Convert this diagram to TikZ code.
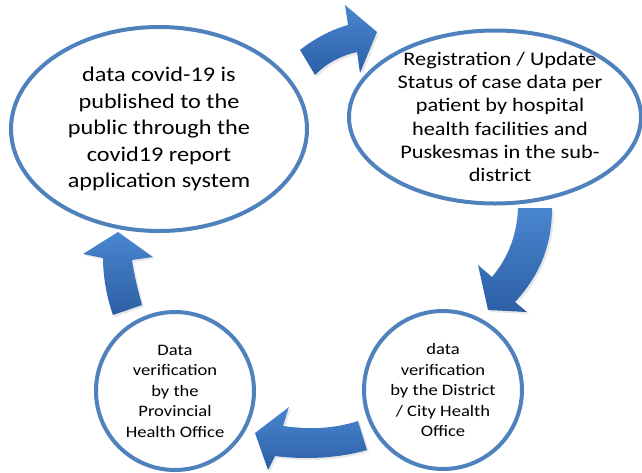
\documentclass[tikz,border=0pt]{standalone}
\usepackage{fontspec}
\setmainfont{Carlito}[FakeStretch=1.16]
\usetikzlibrary{shapes.geometric,shadows}
\definecolor{ringblue}{HTML}{4F81BD}
\definecolor{arrowtop}{HTML}{4A86D0}
\definecolor{arrowbot}{HTML}{2C5FA5}
\tikzset{
  ring/.style={draw=ringblue, line width=4pt, fill=white, ellipse, inner sep=0pt},
  ringtext/.style={align=center, text=black, inner sep=0pt},
  blockarrow/.style={top color=arrowtop, bottom color=arrowbot, draw=none,
    drop shadow={opacity=0.18, shadow xshift=2pt, shadow yshift=-2pt}},
}
\begin{document}
\begin{tikzpicture}[x=1pt,y=-1pt]
\useasboundingbox (0,0) rectangle (642,472);

% arrows
\path[blockarrow] (300,50) .. controls (318,36) and (334,29) .. (348,25)
  -- (345,5) -- (377,32) -- (360,73) -- (357,52)
  .. controls (340,56) and (327,63) .. (315,75) -- cycle;
\path[blockarrow] (518,208) -- (552,208)
  .. controls (552,245) and (540,275) .. (515,302)
  -- (527,312) -- (488,310) -- (478,265) -- (492,277)
  .. controls (508,258) and (517,235) .. (518,208) -- cycle;
\path[blockarrow] (358,421) .. controls (330,430) and (305,429) .. (283,426)
  -- (289,407) -- (255,433) -- (268,470) -- (275,456)
  .. controls (305,460) and (340,458) .. (367,450) -- cycle;
\path[blockarrow] (113,315) .. controls (106,295) and (103,275) .. (103,258)
  -- (83,254) -- (118,232) -- (153,257) -- (132,260)
  .. controls (134,275) and (138,290) .. (142,305) -- cycle;

% rings
\node[ring, minimum width=296pt, minimum height=204pt] (pub) at (159,129) {};
\node[ring, minimum width=292pt, minimum height=173pt] (reg) at (495,117) {};
\node[ring, minimum width=158pt, minimum height=158pt] (dist) at (443,390) {};
\node[ring, minimum width=158pt, minimum height=158pt] (prov) at (175,391) {};

% texts
\node[ringtext, font=\fontsize{20.9}{26.5}\selectfont] (pubtext) at (pub.center)
  {data covid-19 is\\ published to the\\ public through the\\ covid19 report\\ application system};
\node[ringtext, font=\fontsize{19.2}{23.3}\selectfont] (regtext) at ([xshift=5pt]reg.center)
  {Registration / Update\\ Status of case data per\\ patient by hospital\\ health facilities and\\ Puskesmas in the sub-\\ district};
\node[ringtext, font=\fontsize{16}{20.5}\selectfont] (disttext) at (dist.center)
  {data\\ verification\\ by the District\\ / City Health\\ Office};
\node[ringtext, font=\fontsize{16}{20.5}\selectfont] (provtext) at (prov.center)
  {Data\\ verification\\ by the\\ Provincial\\ Health Office};
\end{tikzpicture}
\end{document}
